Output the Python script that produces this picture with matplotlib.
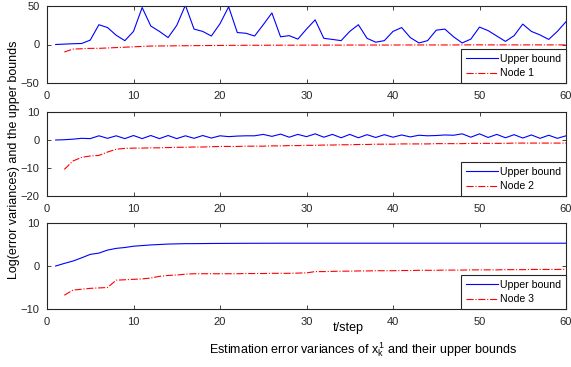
import matplotlib.pyplot as plt
import numpy as np

plt.rcParams['font.family'] = ['Liberation Sans', 'DejaVu Sans']
plt.rcParams['font.size'] = 8
plt.rcParams['mathtext.fontset'] = 'custom'
plt.rcParams['mathtext.rm'] = 'Liberation Sans'
plt.rcParams['mathtext.it'] = 'Liberation Sans'

t = np.arange(1, 61)
t_node = np.arange(2, 61)

ub1 = [0, 0.5, 1, 1.3, 5.7, 25.7, 22, 12, 5, 17,
       48, 24, 17, 9, 24.8, 51, 20, 17, 11, 27,
       49, 15.5, 14.6, 11, 25.7, 41, 10, 11.5, 7, 20,
       32, 8, 6.6, 5, 17, 25.7, 8, 3, 5, 17,
       22, 9, 2, 5, 18.6, 20, 10, 2, 7, 22.6,
       18, 11, 4, 11.5, 26.5, 17, 12.4, 6.6, 17, 29.6]
node1 = [-9.7, -6, -5.5, -5, -5, -4.5, -4, -3.5, -3, -2.5,
         -2, -1.9, -1.8, -1.7, -1.6, -1.5, -1.4, -1.3, -1.2, -1.1,
         -1.1, -1.0, -1.0, -1.0, -0.9, -0.9, -0.9, -0.9, -0.8, -0.8,
         -0.8, -0.8, -0.8, -0.7, -0.7, -0.7, -0.7, -0.7, -0.7, -0.6,
         -0.6, -0.6, -0.6, -0.6, -0.6, -0.6, -0.5, -0.5, -0.5, -0.5,
         -0.5, -0.5, -0.5, -0.5, -0.5, -0.5, -0.5, -0.5, -0.5]

ub2 = [0, 0.1, 0.3, 0.6, 0.5, 1.5, 0.6, 1.5, 0.5, 1.6,
       0.5, 1.6, 0.5, 1.6, 0.5, 1.5, 0.6, 1.6, 0.7, 1.5,
       1.2, 1.4, 1.5, 1.5, 2.0, 1.3, 2.1, 1.0, 2.0, 1.2,
       2.2, 1.0, 2.0, 0.8, 2.0, 0.8, 1.9, 0.9, 1.9, 1.0,
       1.8, 1.1, 1.7, 1.5, 1.6, 1.8, 1.7, 2.2, 1.0, 2.2,
       0.9, 2.0, 0.8, 1.9, 0.7, 1.8, 0.6, 1.7, 0.6, 1.5]
node2 = [-10.5, -7.5, -6.2, -5.7, -5.5, -4.3, -3.3, -3.0, -2.9, -2.9,
         -2.8, -2.8, -2.7, -2.6, -2.6, -2.5, -2.5, -2.4, -2.3, -2.3,
         -2.3, -2.2, -2.2, -2.2, -2.1, -2.1, -2.0, -2.0, -1.9, -1.9,
         -1.8, -1.8, -1.7, -1.7, -1.6, -1.6, -1.5, -1.5, -1.5, -1.4,
         -1.4, -1.4, -1.4, -1.3, -1.3, -1.3, -1.3, -1.2, -1.2, -1.2,
         -1.2, -1.2, -1.1, -1.1, -1.1, -1.1, -1.1, -1.1, -1.1]

ub3 = [0, 0.6, 1.15, 1.9, 2.7, 3.0, 3.7, 4.1, 4.3, 4.6,
       4.75, 4.9, 5.0, 5.1, 5.15, 5.2, 5.2, 5.22, 5.24, 5.25,
       5.26, 5.27, 5.28, 5.28, 5.29, 5.29, 5.3, 5.3, 5.3, 5.3,
       5.3, 5.3, 5.3, 5.3, 5.3, 5.3, 5.3, 5.3, 5.3, 5.3,
       5.3, 5.3, 5.3, 5.3, 5.3, 5.3, 5.3, 5.3, 5.3, 5.3,
       5.3, 5.3, 5.3, 5.3, 5.3, 5.3, 5.3, 5.3, 5.3, 5.3]
node3 = [-6.8, -5.6, -5.4, -5.2, -5.1, -5.0, -3.3, -3.2, -3.1, -3.0,
         -2.8, -2.4, -2.2, -2.1, -1.9, -1.8, -1.8, -1.8, -1.8, -1.8,
         -1.8, -1.75, -1.75, -1.75, -1.7, -1.7, -1.7, -1.65, -1.6, -1.3,
         -1.3, -1.25, -1.2, -1.2, -1.15, -1.15, -1.1, -1.1, -1.1, -1.05,
         -1.05, -1.0, -1.0, -1.0, -0.95, -0.95, -0.95, -0.9, -0.9, -0.9,
         -0.9, -0.85, -0.85, -0.85, -0.8, -0.8, -0.8, -0.8, -0.77]

panels = [
    (ub1, node1, 'Node 1', (-50, 50), [-50, 0, 50]),
    (ub2, node2, 'Node 2', (-20, 10), [-20, -10, 0, 10]),
    (ub3, node3, 'Node 3', (-10, 10), [-10, 0, 10]),
]

dark = '#262626'
fig = plt.figure(figsize=(5.71, 3.67), dpi=100)
# axes positions in pixels: left 47, right 566
rects = [(6, 83), (112, 196), (223, 309)]
for (ub, nd, name, ylim, yt), (top, bot) in zip(panels, rects):
    ax = fig.add_axes([47 / 571, 1 - bot / 367, (566 - 47) / 571, (bot - top) / 367])
    ax.plot(t, ub, color='#0000ff', lw=0.8, label='Upper bound')
    ax.plot(t_node, nd, color='#ff0000', lw=0.8, ls='-.', label=name)
    ax.set_xlim(0, 60)
    ax.set_ylim(*ylim)
    ax.set_yticks(yt)
    ax.set_xticks(range(0, 61, 10))
    ax.tick_params(direction='in', top=True, right=True, length=3, width=0.6,
                   pad=5.5, colors=dark, labelsize=8)
    for s in ax.spines.values():
        s.set_linewidth(0.8)
        s.set_color(dark)
    leg = ax.legend(loc='lower right', fancybox=False, edgecolor=dark,
                    framealpha=1, borderpad=0.45, handlelength=3.0,
                    handletextpad=0.25, labelspacing=0.4, borderaxespad=0.0,
                    fontsize=7.6)
    leg.get_frame().set_linewidth(0.8)

fig.text(14 / 571, 1 - 160 / 367, 'Log(error variances) and the upper bounds',
         rotation=90, ha='center', va='center', fontsize=9)
fig.text(348 / 571, 1 - 328 / 367, 't/step', ha='center', va='center', fontsize=9)
fig.text(363 / 571, 1 - 350 / 367,
         'Estimation error variances of $x_k^1$ and their upper bounds',
         ha='center', va='center', fontsize=9)

fig.savefig('out.png', dpi=100)
